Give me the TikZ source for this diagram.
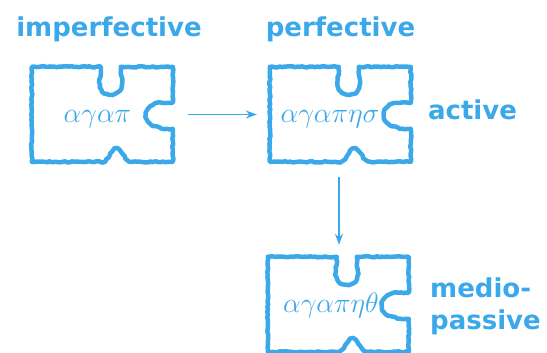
\RequirePackage{fix-cm}
\documentclass[tikz,border=0pt]{standalone}
\usepackage{fontspec}
\setmainfont{DejaVu Sans}
\usetikzlibrary{arrows.meta,decorations.pathmorphing}
\definecolor{pblue}{RGB}{59,169,233}
\tikzset{
  lbl/.style={text=pblue,font=\fontsize{26bp}{32bp}\bfseries\selectfont,inner sep=0pt},
  greek/.style={text=pblue,font=\fontsize{28bp}{30bp}\rmfamily\selectfont,inner sep=0pt},
  piece/.style={rectangle,draw=none,minimum width=141bp,minimum height=95bp,inner sep=0pt},
  puz/.style={draw=pblue,line width=4.5bp,line join=round,line cap=round,
    decoration={random steps,segment length=2.5bp,amplitude=0.6bp},decorate},
  arr/.style={draw=pblue,line width=1.3bp,-{Stealth[length=11bp,width=8bp]}},
  puzzle/.pic={
    \path[puz] (0,0) -- (69,0) -- (69,8) .. controls (66,16) and (68,28) .. (79,28)
      .. controls (90,28) and (92,16) .. (89,8) -- (89,0) -- (141,0) -- (141,36)
      -- (130,36) .. controls (119,36) and (114,42) .. (114,48)
      .. controls (114,55) and (119,60) .. (127,60) -- (130,62) -- (141,62)
      -- (141,95) -- (100,95) .. controls (93,95) and (91,82) .. (85,82)
      .. controls (79,82) and (77,95) .. (70,95) -- (0,95) -- cycle;
  }
}
\begin{document}
\pgfmathsetseed{7}
\begin{tikzpicture}[x=1bp,y=-1bp]
\useasboundingbox (0,0) rectangle (547,352);
% pieces
\node[piece] (p1) at (102.5,114.5) {};
\node[piece] (p2) at (340.5,114.5) {};
\node[piece] (p3) at (338.5,304.5) {};
\pic at (p1.north west) {puzzle};
\pic at (p2.north west) {puzzle};
\pic at (p3.north west) {puzzle};
% greek stems
\node[greek,anchor=base] (g1) at (97.5,122) {$\alpha\gamma\alpha\pi$};
\node[greek,anchor=base] (g2) at (330,122) {$\alpha\gamma\alpha\pi\eta\sigma$};
\node[greek,anchor=base] (g3) at (331,312) {$\alpha\gamma\alpha\pi\eta\theta$};
% labels
\node[lbl,anchor=base] (limp) at (109,36) {imperfective};
\node[lbl,anchor=base] (lper) at (340.5,36) {perfective};
\node[lbl,anchor=base] (lact) at (472.5,119) {active};
\node[lbl,anchor=base west] (lmed) at (430,297) {medio-};
\node[lbl,anchor=base west] (lpas) at (430,329) {passive};
% arrows
\draw[arr] ([xshift=15bp]p1.east) -- ([xshift=-13bp]p2.west);
\draw[arr] ([xshift=-1.5bp,yshift=-15bp]p2.south) -- ([xshift=0.5bp,yshift=12bp]p3.north);
\end{tikzpicture}
\end{document}
